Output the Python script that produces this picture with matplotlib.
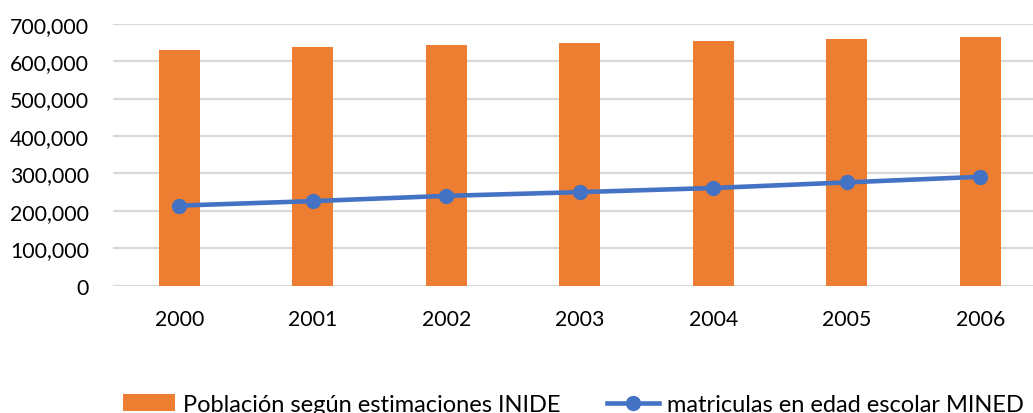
import numpy as np
import matplotlib.pyplot as plt
from matplotlib.ticker import FuncFormatter

years = ['2000', '2001', '2002', '2003', '2004', '2005', '2006']
poblacion = [629000, 637000, 643000, 648000, 653000, 658000, 664000]
matriculas = [214000, 226000, 240000, 250000, 261000, 276000, 291000]

plt.rcParams['font.family'] = ['Lato', 'DejaVu Sans']

fig = plt.figure(figsize=(10.33, 4.14), dpi=100)
ax = fig.add_axes([112.5 / 1033, 1 - 286.7 / 414, 934.5 / 1033, 262 / 414])

x = np.arange(len(years))
bars = ax.bar(x, poblacion, width=0.31, color='#ED7D31', zorder=2,
              label='Población según estimaciones INIDE')
line, = ax.plot(x, matriculas, color='#4472C4', lw=3.3, marker='o', ms=10, zorder=3,
                label='matriculas en edad escolar MINED')

ax.set_xlim(-0.5, len(years) - 0.5)
ax.set_ylim(0, 700000)
ax.set_yticks(np.arange(0, 700001, 100000))
ax.yaxis.set_major_formatter(FuncFormatter(lambda v, p: f'{int(v):,}'))
ax.set_xticks(x)
ax.set_xticklabels(years)
ax.grid(axis='y', color='#D9D9D9', lw=1.6, zorder=0)
ax.set_axisbelow(True)
for s in ax.spines.values():
    s.set_visible(False)
ax.tick_params(axis='both', length=0, labelsize=15.3, colors='#000000')
ax.tick_params(axis='y', pad=17)
ax.tick_params(axis='x', pad=17)

fig.legend(handles=[bars, line], loc='center left',
           bbox_to_anchor=(123.3 / 1033, 1 - 405.5 / 414),
           ncol=2, frameon=False, fontsize=17, borderpad=0, borderaxespad=0,
           handlelength=2.2, handletextpad=0.31, columnspacing=2.0)

fig.savefig('out.png', dpi=100)
